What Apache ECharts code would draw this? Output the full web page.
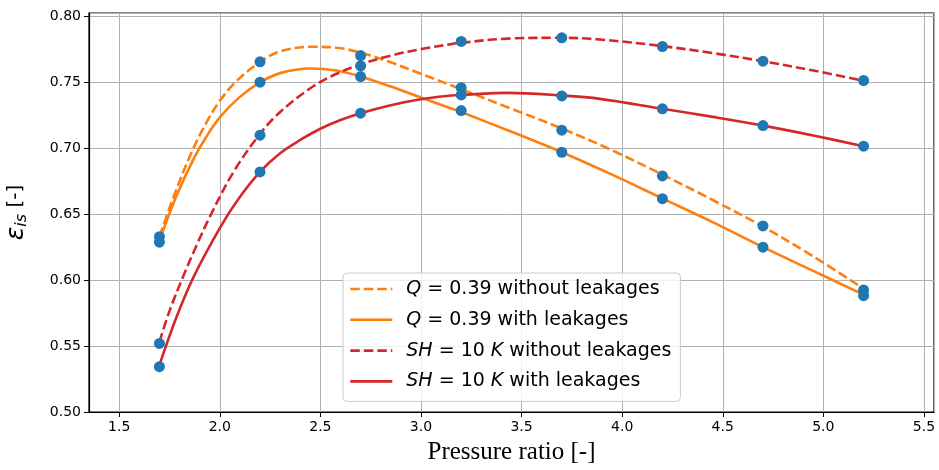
<!DOCTYPE html>
<html>
<head>
<meta charset="utf-8">
<script src="https://cdn.jsdelivr.net/npm/echarts@6/dist/echarts.min.js"></script>
<style>
html,body{margin:0;padding:0;background:#fff;}
#chart{width:939px;height:470px;}
</style>
</head>
<body>
<div id="chart"></div>
<script>
// Measured points
const xPts = [1.7, 2.2, 2.7, 3.2, 3.7, 4.2, 4.7, 5.2];
const qNoLeakPts  = [0.633, 0.7656, 0.7703, 0.746, 0.7137, 0.679, 0.6411, 0.5926];
const qLeakPts    = [0.6288, 0.7501, 0.7544, 0.7286, 0.697, 0.6618, 0.625, 0.5882];
const shNoLeakPts = [0.552, 0.7099, 0.7625, 0.781, 0.7838, 0.7772, 0.7661, 0.7514];
const shLeakPts   = [0.5344, 0.6821, 0.7266, 0.7405, 0.7397, 0.7299, 0.7172, 0.7016];

// Fitted curves
const qNoLeakCurveX = [1.70, 1.78, 1.86, 1.93, 2.00, 2.08, 2.20, 2.30, 2.45, 2.58, 2.70, 2.85, 3.00, 3.15, 3.20, 3.45, 3.70, 3.95, 4.20, 4.45, 4.70, 4.95, 5.20];
const qNoLeakCurveY = [0.633, 0.667, 0.697, 0.7185, 0.736, 0.7505, 0.7655, 0.7735, 0.777, 0.7763, 0.7725, 0.7652, 0.7565, 0.7478, 0.7448, 0.730, 0.715, 0.6985, 0.680, 0.6608, 0.6405, 0.618, 0.5935];

const qLeakCurveX = [1.70, 1.785, 1.87, 1.93, 2.00, 2.10, 2.20, 2.30, 2.45, 2.58, 2.70, 2.85, 3.00, 3.15, 3.20, 3.45, 3.70, 3.95, 4.20, 4.45, 4.70, 4.95, 5.20];
const qLeakCurveY = [0.630, 0.664, 0.692, 0.708, 0.7235, 0.739, 0.750, 0.757, 0.7605, 0.759, 0.7545, 0.7468, 0.7385, 0.7302, 0.7275, 0.7125, 0.697, 0.680, 0.662, 0.644, 0.625, 0.607, 0.589];

const shNoLeakCurveX = [1.70, 1.75, 1.82, 1.885, 1.96, 2.07, 2.20, 2.30, 2.45, 2.58, 2.70, 2.85, 3.00, 3.15, 3.20, 3.43, 3.70, 3.89, 4.20, 4.45, 4.70, 4.95, 5.20];
const shNoLeakCurveY = [0.553, 0.5765, 0.6035, 0.6265, 0.651, 0.6825, 0.711, 0.7275, 0.7455, 0.7565, 0.7637, 0.7703, 0.7752, 0.779, 0.780, 0.7832, 0.7838, 0.7825, 0.7775, 0.7722, 0.766, 0.759, 0.7512];

const shLeakCurveX = [1.70, 1.785, 1.87, 2.00, 2.09, 2.20, 2.30, 2.40, 2.50, 2.60, 2.70, 2.85, 3.00, 3.15, 3.20, 3.43, 3.70, 3.89, 4.20, 4.45, 4.70, 4.95, 5.20];
const shLeakCurveY = [0.5355, 0.572, 0.6025, 0.6395, 0.661, 0.6821, 0.6962, 0.7063, 0.7148, 0.7214, 0.7266, 0.7327, 0.7372, 0.740, 0.7405, 0.742, 0.740, 0.7375, 0.730, 0.7238, 0.7172, 0.7097, 0.7016];

const xTicks = [1.5, 2.0, 2.5, 3.0, 3.5, 4.0, 4.5, 5.0, 5.5];
const yTicks = [0.50, 0.55, 0.60, 0.65, 0.70, 0.75, 0.80];

const seriesNames = [
  'Q = 0.39 without leakages',
  'Q = 0.39 with leakages',
  'SH = 10 K without leakages',
  'SH = 10 K with leakages'
];
const legendRich = {
  'Q = 0.39 without leakages': '{i|Q} = 0.39 without leakages',
  'Q = 0.39 with leakages': '{i|Q} = 0.39 with leakages',
  'SH = 10 K without leakages': '{i|SH} = 10 {i|K} without leakages',
  'SH = 10 K with leakages': '{i|SH} = 10 {i|K} with leakages'
};

const ORANGE = '#ff7f0e', RED = '#d62728', BLUE = '#1f77b4';
const DASH = [9.5, 4];

function zip(xs, ys) { return xs.map((x, i) => [x, ys[i]]); }

function curve(name, xs, ys, color, dashed) {
  return {
    name: name, type: 'line', data: zip(xs, ys),
    smooth: 0.35,
    showSymbol: false, symbol: 'none',
    lineStyle: { color: color, width: 2.6, type: dashed ? DASH : 'solid' },
    itemStyle: { color: color },
    z: 3, silent: true, animation: false
  };
}
function pts(name, ys) {
  return {
    name: name, type: 'scatter', data: zip(xPts, ys),
    symbol: 'circle', symbolSize: 11,
    itemStyle: { color: BLUE, opacity: 1 },
    z: 5, silent: true, animation: false
  };
}

const chart = echarts.init(document.getElementById('chart'), null, { renderer: 'canvas' });
chart.setOption({
  animation: false,
  backgroundColor: '#fff',
  grid: { left: 89, right: 5, top: 13, bottom: 58, show: true, borderColor: '#000', borderWidth: 1.2,
          containLabel: false, outerBoundsMode: 'none' },
  xAxis: {
    type: 'value', min: 1.35, max: 5.55, splitNumber: 8,
    name: 'Pressure ratio [-]', nameLocation: 'middle', nameGap: 28,
    nameTextStyle: { fontFamily: 'Liberation Serif', fontSize: 25, color: '#000' },
    axisLine: { show: true, onZero: false, lineStyle: { color: '#000', width: 1.2 } },
    axisTick: { show: true, length: 5, lineStyle: { color: '#000', width: 1 } },
    axisLabel: { showMinLabel: false, showMaxLabel: false, margin: 8, fontFamily: 'DejaVu Sans', fontSize: 14, color: '#000',
      formatter: v => xTicks.some(t => Math.abs(t - v) < 1e-6) ? v.toFixed(1) : '' },
    splitLine: { show: true, lineStyle: { color: '#b0b0b0', width: 1 } }
  },
  yAxis: {
    type: 'value', min: 0.5, max: 0.8026, splitNumber: 6,
    name: '{e|ε}{s|is}{t| [-]}', nameLocation: 'middle', nameGap: 58, nameRotate: 90,
    nameTextStyle: { color: '#000', rich: {
      e: { fontFamily: 'DejaVu Sans', fontStyle: 'italic', fontSize: 25, lineHeight: 30, verticalAlign: 'middle' },
      s: { fontFamily: 'DejaVu Sans', fontStyle: 'italic', fontSize: 16, lineHeight: 30, verticalAlign: 'bottom', padding: [0,0,1,0] },
      t: { fontFamily: 'DejaVu Sans', fontSize: 20, lineHeight: 30, verticalAlign: 'middle' }
    } },
    axisLine: { show: true, onZero: false, lineStyle: { color: '#000', width: 1.2 } },
    axisTick: { show: true, length: 5, lineStyle: { color: '#000', width: 1 } },
    axisLabel: { showMinLabel: true, showMaxLabel: false, margin: 8, fontFamily: 'DejaVu Sans', fontSize: 14, color: '#000',
      formatter: v => yTicks.some(t => Math.abs(t - v) < 1e-6) ? v.toFixed(2) : '' },
    splitLine: { show: true, lineStyle: { color: '#b0b0b0', width: 1 } }
  },
  legend: {
    data: seriesNames, orient: 'vertical', left: 343, top: 273,
    itemWidth: 42, itemHeight: 14, itemGap: 8.8,
    padding: [5, 9, 9, 6],
    backgroundColor: 'rgba(255,255,255,0.8)', borderColor: '#cccccc', borderWidth: 1, borderRadius: 4,
    itemStyle: { opacity: 0 },
    lineStyle: { width: 2.6 },
    formatter: n => legendRich[n],
    textStyle: { fontFamily: 'DejaVu Sans', fontSize: 19, color: '#000', lineHeight: 22, padding: [0, 0, 0, 9],
      rich: { i: { fontFamily: 'DejaVu Sans', fontStyle: 'italic', fontSize: 19, color: '#000', lineHeight: 22 } } }
  },
  series: [
    curve(seriesNames[0], qNoLeakCurveX, qNoLeakCurveY, ORANGE, true),
    curve(seriesNames[1], qLeakCurveX, qLeakCurveY, ORANGE, false),
    curve(seriesNames[2], shNoLeakCurveX, shNoLeakCurveY, RED, true),
    curve(seriesNames[3], shLeakCurveX, shLeakCurveY, RED, false),
    pts('pts1', qNoLeakPts),
    pts('pts2', qLeakPts),
    pts('pts3', shNoLeakPts),
    pts('pts4', shLeakPts)
  ]
});
</script>
</body>
</html>
